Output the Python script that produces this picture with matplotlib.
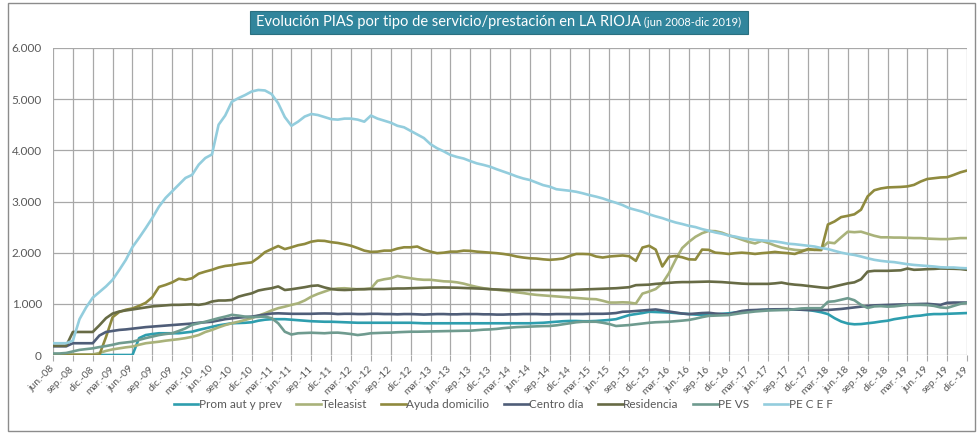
import numpy as np
import pandas as pd
import matplotlib
matplotlib.use('Agg')
import matplotlib.pyplot as plt
from matplotlib.patches import Rectangle
from matplotlib.ticker import FuncFormatter

plt.rcParams['font.family'] = ['Lato', 'DejaVu Sans']

# monthly categories jun-2008 .. dic-2019
months = pd.date_range('2008-06-01', '2019-12-01', freq='MS')
mes = ['ene.', 'feb.', 'mar.', 'abr.', 'may.', 'jun.',
       'jul.', 'ago.', 'sep.', 'oct.', 'nov.', 'dic.']
tick_pos = list(range(0, len(months), 3))
tick_labels = [f"{mes[months[i].month - 1]}-{months[i].year % 100:02d}" for i in tick_pos]

# values, one row per year (2008 starts in june)
prom_aut = [0, 0, 0, 0, 0, 0, 0,
            0, 0, 0, 0, 0, 0, 330, 390, 410, 425, 425, 425,
            425, 440, 455, 490, 520, 550, 580, 600, 620, 625, 630, 640,
            670, 690, 700, 700, 700, 690, 680, 670, 660, 655, 650, 650,
            645, 640, 635, 630, 630, 630, 630, 630, 630, 630, 630, 630,
            625, 620, 620, 620, 620, 620, 620, 620, 620, 620, 620, 620,
            620, 620, 620, 620, 620, 620, 625, 630, 640, 650, 660, 665,
            665, 660, 660, 665, 675, 685, 700, 740, 780, 800, 820, 845,
            840, 835, 830, 820, 810, 800, 790, 785, 780, 795, 805, 815,
            830, 845, 855, 870, 880, 885, 890, 893, 895, 890, 885, 880,
            860, 835, 800, 720, 655, 615, 600, 605, 620, 635, 655, 670,
            700, 720, 740, 760, 770, 790, 800, 800, 805, 812, 815, 820]

teleasist = [10, 10, 10, 10, 10, 10, 10,
             40, 80, 110, 130, 150, 165, 200, 230, 245, 260, 280, 295,
             310, 330, 355, 390, 450, 490, 540, 585, 620, 650, 685, 720,
             770, 815, 870, 915, 945, 980, 1010, 1065, 1140, 1195, 1240, 1285,
             1300, 1305, 1295, 1285, 1290, 1300, 1450, 1480, 1500, 1545, 1520, 1500,
             1480, 1470, 1470, 1455, 1440, 1435, 1420, 1395, 1360, 1330, 1305, 1290,
             1275, 1260, 1245, 1225, 1210, 1190, 1175, 1165, 1155, 1145, 1135, 1125,
             1115, 1105, 1095, 1090, 1060, 1025, 1025, 1030, 1025, 1005, 1200, 1240,
             1290, 1400, 1600, 1860, 2090, 2210, 2310, 2380, 2425, 2420, 2390, 2340,
             2300, 2255, 2210, 2180, 2230, 2190, 2140, 2100, 2075, 2055, 2045, 2055,
             2055, 2080, 2200, 2185, 2300, 2410, 2400, 2410, 2370, 2330, 2300, 2300,
             2295, 2295, 2290, 2285, 2285, 2275, 2270, 2265, 2265, 2275, 2285, 2285]

ayuda = [0, 0, 0, 0, 0, 0, 0,
         0, 350, 740, 840, 885, 910, 960, 1020, 1130, 1330, 1370, 1420,
         1490, 1470, 1500, 1590, 1630, 1665, 1710, 1740, 1755, 1780, 1795, 1810,
         1900, 2010, 2070, 2130, 2070, 2105, 2145, 2170, 2215, 2235, 2230, 2205,
         2190, 2165, 2135, 2090, 2040, 2015, 2020, 2040, 2040, 2080, 2105, 2105,
         2120, 2060, 2020, 1990, 2000, 2020, 2020, 2040, 2035, 2020, 2010, 2000,
         1990, 1975, 1955, 1925, 1905, 1890, 1885, 1870, 1860, 1870, 1885, 1935,
         1975, 1975, 1970, 1925, 1905, 1925, 1935, 1945, 1930, 1840, 2100, 2135,
         2060, 1730, 1920, 1935, 1910, 1870, 1865, 2060, 2055, 2000, 1990, 1975,
         1990, 2000, 1990, 1975, 1990, 2000, 2015, 2000, 1990, 1975, 2020, 2070,
         2055, 2050, 2550, 2610, 2695, 2720, 2750, 2840, 3100, 3220, 3255, 3275,
         3280, 3285, 3295, 3325, 3390, 3440, 3455, 3470, 3475, 3520, 3570, 3605]

centro_dia = [170, 170, 170, 230, 230, 230, 230,
              380, 450, 470, 490, 500, 515, 530, 545, 555, 565, 575, 585,
              595, 605, 615, 630, 640, 650, 675, 700, 715, 730, 740, 750,
              770, 790, 810, 815, 810, 805, 805, 805, 805, 810, 812, 810,
              800, 805, 805, 800, 800, 805, 805, 800, 800, 795, 800, 800,
              795, 790, 795, 800, 800, 795, 795, 800, 800, 800, 795, 795,
              790, 790, 795, 795, 800, 800, 800, 795, 795, 800, 800, 800,
              800, 800, 805, 805, 805, 810, 820, 845, 850, 860, 870, 880,
              890, 870, 850, 830, 810, 800, 810, 820, 825, 810, 800, 795,
              830, 860, 875, 880, 885, 890, 893, 895, 895, 890, 885, 880,
              880, 880, 880, 890, 900, 915, 930, 945, 960, 970, 975, 980,
              985, 988, 990, 995, 998, 1000, 990, 980, 1020, 1025, 1025, 1025]

residencia = [180, 180, 180, 450, 450, 450, 450,
              580, 720, 810, 850, 870, 890, 910, 930, 950, 960, 970, 980,
              980, 985, 990, 980, 1000, 1045, 1065, 1065, 1075, 1140, 1175, 1205,
              1260, 1285, 1305, 1340, 1270, 1285, 1305, 1325, 1350, 1360, 1320, 1290,
              1275, 1270, 1275, 1285, 1285, 1290, 1290, 1290, 1295, 1300, 1300, 1305,
              1310, 1315, 1318, 1320, 1320, 1318, 1315, 1310, 1305, 1300, 1295, 1285,
              1280, 1275, 1270, 1270, 1268, 1270, 1268, 1270, 1270, 1272, 1270, 1270,
              1275, 1280, 1285, 1290, 1295, 1300, 1305, 1315, 1325, 1365, 1370, 1375,
              1390, 1400, 1410, 1420, 1425, 1425, 1428, 1430, 1435, 1430, 1425, 1415,
              1405, 1395, 1390, 1390, 1390, 1390, 1400, 1415, 1390, 1375, 1365, 1350,
              1335, 1320, 1310, 1340, 1370, 1400, 1420, 1480, 1630, 1645, 1645, 1645,
              1650, 1655, 1690, 1665, 1670, 1678, 1682, 1690, 1688, 1685, 1680, 1665]

pe_vs = [30, 30, 40, 70, 100, 115, 130,
         155, 175, 200, 230, 245, 260, 295, 330, 360, 390, 410, 425,
         470, 520, 590, 620, 650, 685, 720, 750, 785, 770, 750, 740,
         745, 750, 720, 620, 455, 400, 425, 430, 435, 430, 425, 435,
         437, 425, 410, 390, 405, 425, 430, 435, 437, 445, 450, 455,
         455, 458, 460, 462, 465, 470, 472, 474, 475, 485, 495, 500,
         510, 525, 535, 545, 550, 555, 560, 565, 567, 580, 600, 620,
         640, 650, 650, 650, 630, 605, 567, 575, 585, 600, 615, 630,
         640, 645, 650, 660, 672, 685, 710, 740, 765, 770, 775, 780,
         800, 820, 835, 850, 860, 870, 875, 878, 880, 895, 910, 915,
         915, 915, 1040, 1050, 1080, 1110, 1070, 980, 920, 950, 955, 945,
         950, 965, 980, 980, 980, 975, 960, 930, 920, 960, 1000, 1020]

pe_cef = [230, 230, 230, 280, 700, 930, 1120,
          1230, 1340, 1470, 1660, 1860, 2110, 2290, 2480, 2680, 2900, 3070, 3200,
          3330, 3460, 3520, 3720, 3850, 3920, 4500, 4680, 4950, 5020, 5080, 5150,
          5180, 5170, 5100, 4920, 4650, 4480, 4560, 4660, 4710, 4690, 4650, 4610,
          4600, 4620, 4620, 4600, 4560, 4680, 4620, 4580, 4540, 4480, 4450, 4380,
          4310, 4240, 4120, 4040, 3980, 3910, 3870, 3840, 3790, 3745, 3715, 3680,
          3630, 3585, 3540, 3490, 3450, 3420, 3370, 3320, 3290, 3240, 3225, 3210,
          3190, 3160, 3125, 3095, 3060, 3015, 2975, 2930, 2870, 2835, 2800, 2750,
          2710, 2675, 2630, 2590, 2560, 2525, 2500, 2460, 2430, 2395, 2370, 2335,
          2315, 2285, 2265, 2250, 2240, 2230, 2220, 2200, 2175, 2165, 2150, 2135,
          2120, 2090, 2070, 2035, 2000, 1975, 1955, 1925, 1890, 1860, 1840, 1825,
          1815, 1795, 1775, 1760, 1750, 1740, 1730, 1715, 1710, 1710, 1700, 1695]

series = [
    ('Prom aut y prev', prom_aut, '#2E9EAE'),
    ('Teleasist', teleasist, '#A9B27A'),
    ('Ayuda domicilio', ayuda, '#8F8A3E'),
    ('Centro día', centro_dia, '#4F5D78'),
    ('Residencia', residencia, '#676B45'),
    ('PE VS', pe_vs, '#6F9B8F'),
    ('PE C E F', pe_cef, '#93CDDD'),
]

W, H = 979, 434
fig = plt.figure(figsize=(W / 100, H / 100), dpi=100)
ax = fig.add_axes([53 / W, 1 - 355 / H, (967 - 53) / W, (355 - 48) / H])

x = np.arange(len(months))
for name, vals, col in series:
    assert len(vals) == len(months), name
    ax.plot(x, vals, color=col, lw=1.9, label=name, solid_joinstyle='round')

grid_col = '#A8A8A8'
ax.set_xlim(0, len(months) - 1)
ax.set_ylim(0, 6000)
ax.set_yticks(range(0, 6001, 1000))
ax.yaxis.set_major_formatter(FuncFormatter(lambda v, p: f"{int(v):,}".replace(',', '.')))
ax.set_xticks(tick_pos)
ax.set_xticklabels(tick_labels, rotation=45, ha='right', va='center',
                   rotation_mode='anchor', fontsize=7.5, color='#595959')
ax.tick_params(axis='x', length=4, color=grid_col, pad=5)
ax.tick_params(axis='y', length=0, labelsize=8.5, labelcolor='#595959', pad=8)
ax.grid(True, color=grid_col, lw=0.9)
ax.set_axisbelow(True)
for s in ax.spines.values():
    s.set_visible(False)

leg = fig.legend(loc='center', bbox_to_anchor=(0.514, 1 - 405 / H), ncol=7,
                 frameon=False, fontsize=8.5, handlelength=2.1,
                 handletextpad=0.05, columnspacing=1.2)
for t in leg.get_texts():
    t.set_color('#595959')

# outer frame
fig.patches.append(Rectangle((8 / W, 1 - 431 / H), (975 - 8) / W, (431 - 3) / H,
                             transform=fig.transFigure, fill=False,
                             edgecolor='#8C8C8C', lw=1))

# title in a teal box
ty = 1 - 22 / H
t1 = fig.text(0, ty, 'Evolución PIAS por tipo de servicio/prestación en LA RIOJA',
              fontsize=10.5, color='white', va='center', ha='left', zorder=5)
t2 = fig.text(0, ty, ' (jun 2008-dic 2019)', fontsize=8, color='white',
              va='center', ha='left', zorder=5)
fig.canvas.draw()
r = fig.canvas.get_renderer()
w1 = t1.get_window_extent(r).width
w2 = t2.get_window_extent(r).width
x0 = 499 - (w1 + w2) / 2
t1.set_x(x0 / W)
t2.set_x((x0 + w1) / W)
pad = 6
fig.patches.append(Rectangle(((x0 - pad) / W, 1 - 34 / H), (w1 + w2 + 2 * pad) / W, 23 / H,
                             transform=fig.transFigure, facecolor='#31859C',
                             edgecolor='#2A7080', lw=0.8, zorder=1))

fig.savefig('out.png', dpi=100)
